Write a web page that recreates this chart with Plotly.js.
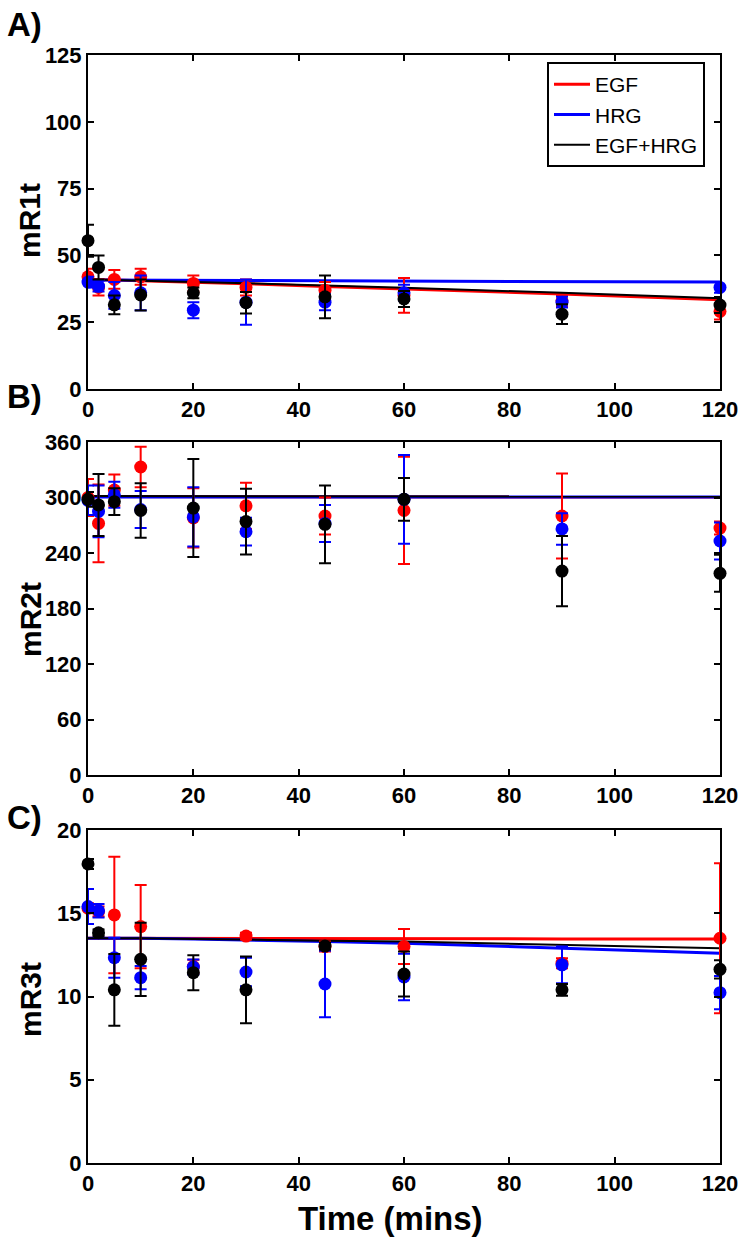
<!DOCTYPE html>
<html>
<head>
<meta charset="utf-8">
<script src="https://cdn.plot.ly/plotly-3.0.1.min.js"></script>
<style>
  body { margin: 0; background: #fff; }
  #chart { width: 747px; height: 1244px; }
</style>
</head>
<body>
<div id="chart"></div>
<script>
// tiempos de muestreo (min)
const time = [0, 2, 5, 10, 20, 30, 45, 60, 90, 120];
const seriesNames = ['EGF', 'HRG', 'EGF+HRG'];

// A) mR1t
const r1_egf = [42, 38, 41, 42, 39.5, 38, 37, 35, 33, 29];
const r1_egf_err = [3, 3, 3.5, 3, 3, 3, 3, 6.5, 2, 3];
const r1_hrg = [40, 38.5, 35, 36, 29.5, 32.5, 32.5, 36, 32.5, 38];
const r1_hrg_err = [2, 2, 5, 6.5, 3, 8.5, 3, 3, 2, 2];
const r1_both = [55.5, 45.5, 31.5, 35.2, 36, 32.3, 34.5, 33.7, 28, 31.4];
const r1_both_err = [6, 4.5, 3.5, 5.8, 2, 4, 8, 3, 3.7, 3];
const r1_fit_egf = [41, 41, 40.8, 40.5, 40, 39.4, 38.4, 37.5, 35.6, 33.4];
const r1_fit_hrg = [40.8, 40.8, 40.8, 40.8, 40.7, 40.6, 40.5, 40.4, 40.2, 40];
const r1_fit_both = [41, 41, 40.8, 40.5, 40.1, 39.6, 38.7, 37.9, 36, 34];

// B) mR2t
const r2_egf = [300, 272, 308, 333, 278, 291, 280, 286, 280, 267];
const r2_egf_err = [20, 42, 17, 22, 32, 25, 20, 58, 46, 7];
const r2_hrg = [297, 285, 303, 287, 279, 263, 272, 298, 266, 253];
const r2_hrg_err = [16, 28, 14, 20, 32, 15, 20, 48, 17, 20];
const r2_both = [298, 292, 295.5, 286, 288.6, 274, 271, 298, 220.5, 218];
const r2_both_err = [8, 33.5, 14.5, 29.5, 53, 35.5, 42, 23, 38, 20];
const r2_fit_egf = [301, 301, 301, 301, 301, 301, 301, 301, 300.5, 300.5];
const r2_fit_hrg = [300.5, 300.5, 300.5, 300.5, 300.5, 300.5, 300.5, 300.5, 300.5, 300.5];
const r2_fit_both = [301.5, 301.5, 301.5, 301.5, 301.5, 301.5, 301.5, 301.5, 301, 301];

// C) mR3t
const r3_egf = [15.3, 15.1, 14.9, 14.2, 11.8, 13.63, 13.0, 13.0, 12.0, 13.5];
const r3_egf_err = [0.3, 0.3, 3.5, 2.5, 0.4, 0.2, 0.3, 1.05, 0.3, 4.5];
const r3_hrg = [15.4, 15.15, 12.33, 11.13, 11.77, 11.47, 10.75, 11.17, 11.9, 10.23];
const r3_hrg_err = [1.05, 0.4, 1.2, 0.7, 0.45, 0.85, 2.0, 1.4, 1.1, 1.0];
const r3_both = [17.96, 13.83, 10.4, 12.23, 11.43, 10.4, 13.03, 11.35, 10.4, 11.63];
const r3_both_err = [0.3, 0.2, 2.15, 2.2, 1.05, 2.0, 0.2, 1.35, 0.35, 0.55];
const r3_fit_egf = [13.5, 13.5, 13.5, 13.5, 13.5, 13.5, 13.5, 13.48, 13.46, 13.45];
const r3_fit_hrg = [13.5, 13.5, 13.5, 13.5, 13.45, 13.4, 13.3, 13.2, 12.9, 12.6];
const r3_fit_both = [13.5, 13.5, 13.5, 13.5, 13.45, 13.4, 13.35, 13.3, 13.1, 12.9];

const colors = ['#ff0000', '#0000ff', '#000000'];
const FONT = 'Arial, "Liberation Sans", sans-serif';
const W = 747, H = 1244;

const panels = [
  { ax: '', vals: [r1_egf, r1_hrg, r1_both], errs: [r1_egf_err, r1_hrg_err, r1_both_err],
    fits: [r1_fit_egf, r1_fit_hrg, r1_fit_both], range: [0, 125], dtick: 25, legend: true },
  { ax: '2', vals: [r2_egf, r2_hrg, r2_both], errs: [r2_egf_err, r2_hrg_err, r2_both_err],
    fits: [r2_fit_egf, r2_fit_hrg, r2_fit_both], range: [0, 360], dtick: 60, legend: false },
  { ax: '3', vals: [r3_egf, r3_hrg, r3_both], errs: [r3_egf_err, r3_hrg_err, r3_both_err],
    fits: [r3_fit_egf, r3_fit_hrg, r3_fit_both], range: [0, 20], dtick: 5, legend: false }
];

const traces = [];
panels.forEach(p => {
  // lineas de ajuste
  const fitWidth = [3, 3, 2];
  [0, 1, 2].forEach(i => {
    traces.push({
      x: time, y: p.fits[i], mode: 'lines', name: seriesNames[i],
      xaxis: 'x' + p.ax, yaxis: 'y' + p.ax,
      line: { color: colors[i], width: fitWidth[i] },
      showlegend: p.legend, hoverinfo: 'skip'
    });
  });
  // puntos con barras de error
  [0, 1, 2].forEach(i => {
    traces.push({
      x: time, y: p.vals[i], mode: 'markers', name: seriesNames[i],
      xaxis: 'x' + p.ax, yaxis: 'y' + p.ax,
      marker: { color: colors[i], size: 13 },
      error_y: { type: 'data', array: p.errs[i], color: colors[i], thickness: 2, width: 6 },
      cliponaxis: false, showlegend: false
    });
  });
});

// dominios en pixeles
const xDom = [88 / W, 720 / W];
const yDoms = [[55, 389], [442, 775], [830, 1163]].map(d => [1 - d[1] / H, 1 - d[0] / H]);

const axisBase = {
  showline: true, linecolor: '#000', linewidth: 2, mirror: 'ticks',
  ticks: 'inside', ticklen: 6, tickwidth: 2, tickcolor: '#000',
  showgrid: false, zeroline: false,
  tickfont: { family: FONT, size: 22, color: '#000', weight: 'bold' }
};

const layout = {
  width: W, height: H,
  margin: { l: 0, r: 0, t: 0, b: 0 },
  paper_bgcolor: '#fff', plot_bgcolor: '#fff',
  showlegend: true,
  legend: {
    x: 547 / W, y: 1 - 62 / H, xanchor: 'left', yanchor: 'top',
    bgcolor: '#fff', bordercolor: '#000', borderwidth: 2,
    font: { family: FONT, size: 21, color: '#000' }, tracegroupgap: 0,
    itemwidth: 36
  },
  annotations: []
};

panels.forEach((p, k) => {
  const xa = 'xaxis' + p.ax, ya = 'yaxis' + p.ax;
  layout[xa] = Object.assign({}, axisBase, {
    domain: xDom, range: [0, 120], tickvals: [0, 20, 40, 60, 80, 100, 120],
    anchor: 'y' + p.ax
  });
  layout[ya] = Object.assign({}, axisBase, {
    domain: yDoms[k], range: p.range, dtick: p.dtick, tick0: 0,
    anchor: 'x' + p.ax
  });
});

const yTitles = ['mR1t', 'mR2t', 'mR3t'];
const yTitlePos = [221, 620, 1000];
yTitles.forEach((t, k) => {
  layout.annotations.push({
    text: t, xref: 'paper', yref: 'paper', x: 30 / W, y: 1 - yTitlePos[k] / H,
    xanchor: 'center', yanchor: 'middle', textangle: -90, showarrow: false,
    font: { family: FONT, size: 30, color: '#000', weight: 'bold' }
  });
});

const panelLabels = ['A)', 'B)', 'C)'];
const panelLabelPos = [24, 397, 817];
panelLabels.forEach((t, k) => {
  layout.annotations.push({
    text: t, xref: 'paper', yref: 'paper', x: 5 / W, y: 1 - panelLabelPos[k] / H,
    xanchor: 'left', yanchor: 'middle', showarrow: false,
    font: { family: FONT, size: 33, color: '#000', weight: 'bold' }
  });
});

layout.annotations.push({
  text: 'Time (mins)', xref: 'paper', yref: 'paper', x: 391 / W, y: 1 - 1218 / H,
  xanchor: 'center', yanchor: 'middle', showarrow: false,
  font: { family: FONT, size: 33, color: '#000', weight: 'bold' }
});

Plotly.newPlot('chart', traces, layout, { staticPlot: true });
</script>
</body>
</html>
